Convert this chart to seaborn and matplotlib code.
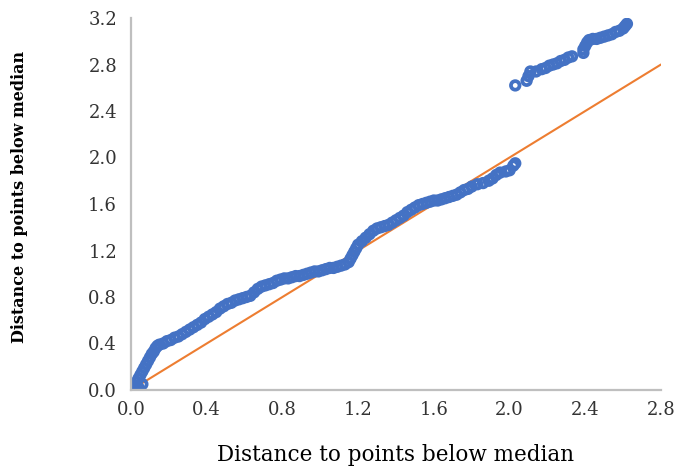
import matplotlib
matplotlib.use("Agg")
import matplotlib.pyplot as plt
import seaborn as sns
import pandas as pd

# Points along the main (lower) band
lower_x = [0.00, 0.01, 0.02, 0.04, 0.03, 0.04, 0.05, 0.06, 0.06, 0.07, 0.08, 0.09,
           0.10, 0.11, 0.12, 0.13, 0.14, 0.15, 0.17, 0.19, 0.21, 0.23, 0.25, 0.27,
           0.29, 0.31, 0.33, 0.35, 0.37, 0.39, 0.41, 0.43, 0.45, 0.47, 0.49, 0.51,
           0.53, 0.55, 0.57, 0.59, 0.61, 0.63, 0.65, 0.67, 0.69, 0.71, 0.73, 0.75,
           0.77, 0.79, 0.81, 0.83, 0.85, 0.87, 0.89, 0.91, 0.93, 0.95, 0.97, 0.99,
           1.01, 1.03, 1.05, 1.07, 1.09, 1.11, 1.13, 1.15, 1.16, 1.17, 1.18, 1.19,
           1.20, 1.22, 1.24, 1.26, 1.28, 1.30, 1.32, 1.34, 1.36, 1.38, 1.40, 1.42,
           1.44, 1.46, 1.48, 1.50, 1.52, 1.54, 1.56, 1.58, 1.60, 1.62, 1.64, 1.66,
           1.68, 1.70, 1.72, 1.74, 1.76, 1.78, 1.80, 1.83, 1.86, 1.89, 1.91, 1.93,
           1.95, 1.98, 2.00, 2.02, 2.03]
lower_y = [0.00, 0.02, 0.04, 0.02, 0.07, 0.10, 0.13, 0.05, 0.16, 0.19, 0.22, 0.25,
           0.28, 0.31, 0.33, 0.36, 0.38, 0.39, 0.40, 0.42, 0.43, 0.45, 0.46, 0.48,
           0.50, 0.52, 0.54, 0.56, 0.58, 0.61, 0.63, 0.65, 0.67, 0.70, 0.72, 0.74,
           0.75, 0.77, 0.78, 0.79, 0.80, 0.81, 0.84, 0.87, 0.89, 0.90, 0.91, 0.92,
           0.94, 0.95, 0.96, 0.96, 0.97, 0.98, 0.98, 0.99, 1.00, 1.01, 1.02, 1.02,
           1.03, 1.04, 1.05, 1.05, 1.06, 1.07, 1.08, 1.10, 1.13, 1.16, 1.19, 1.22,
           1.25, 1.28, 1.31, 1.34, 1.37, 1.39, 1.40, 1.41, 1.42, 1.44, 1.46, 1.48,
           1.50, 1.53, 1.55, 1.57, 1.59, 1.60, 1.61, 1.62, 1.63, 1.63, 1.64, 1.65,
           1.66, 1.67, 1.68, 1.70, 1.72, 1.73, 1.75, 1.77, 1.78, 1.80, 1.82, 1.85,
           1.87, 1.88, 1.89, 1.93, 1.95]

# Points in the detached upper group
upper_x = [2.03, 2.09, 2.10, 2.11, 2.14, 2.17, 2.19, 2.21, 2.23, 2.25, 2.27, 2.29,
           2.31, 2.33, 2.39, 2.39, 2.40, 2.41, 2.42, 2.44, 2.46, 2.48, 2.50, 2.52,
           2.54, 2.56, 2.58, 2.60, 2.61, 2.62]
upper_y = [2.62, 2.66, 2.70, 2.74, 2.74, 2.76, 2.77, 2.79, 2.80, 2.81, 2.83, 2.84,
           2.86, 2.87, 2.90, 2.93, 2.96, 2.99, 3.01, 3.02, 3.02, 3.03, 3.04, 3.05,
           3.06, 3.08, 3.09, 3.11, 3.13, 3.15]

# Reference line
ref_x = [0.0, 2.8]
ref_y = [0.0, 2.8]

x_ticks = [0.0, 0.4, 0.8, 1.2, 1.6, 2.0, 2.4, 2.8]
y_ticks = [0.0, 0.4, 0.8, 1.2, 1.6, 2.0, 2.4, 2.8, 3.2]
x_label = "Distance to points below median"
y_label = "Distance to points below median"

sns.set_style("white")
plt.rcParams["font.family"] = ["DejaVu Serif"]

df = pd.DataFrame({"x": lower_x + upper_x, "y": lower_y + upper_y})

fig = plt.figure(figsize=(6.76, 4.69), dpi=100)
ax = fig.add_axes([131 / 676, 79 / 469, 530 / 676, 372 / 469])

sns.lineplot(x=ref_x, y=ref_y, ax=ax, color="#ED7D31", linewidth=1.5, zorder=1)
sns.scatterplot(data=df, x="x", y="y", ax=ax, marker="o", s=38,
                facecolor="none", edgecolor="#4472C4", linewidth=2.7, zorder=2)

ax.set_xlim(0, 2.8)
ax.set_ylim(0, 3.2)
ax.set_xticks(x_ticks)
ax.set_yticks(y_ticks)
ax.set_xticklabels([f"{t:.1f}" for t in x_ticks])
ax.set_yticklabels([f"{t:.1f}" for t in y_ticks])
ax.tick_params(axis="both", length=0, labelsize=13, colors="#333333")
ax.tick_params(axis="x", pad=8)
ax.tick_params(axis="y", pad=10)

for side in ["top", "right"]:
    ax.spines[side].set_visible(False)
for side in ["left", "bottom"]:
    ax.spines[side].set_color("#BFBFBF")
    ax.spines[side].set_linewidth(1.6)

ax.set_xlabel(x_label, fontsize=15.5, color="black")
ax.xaxis.set_label_coords(0.5, -0.145)
ax.set_ylabel(y_label, fontsize=11.5, fontweight="bold", color="black")
ax.yaxis.set_label_coords(-0.195, 0.52)

fig.savefig("out.png", dpi=100)
